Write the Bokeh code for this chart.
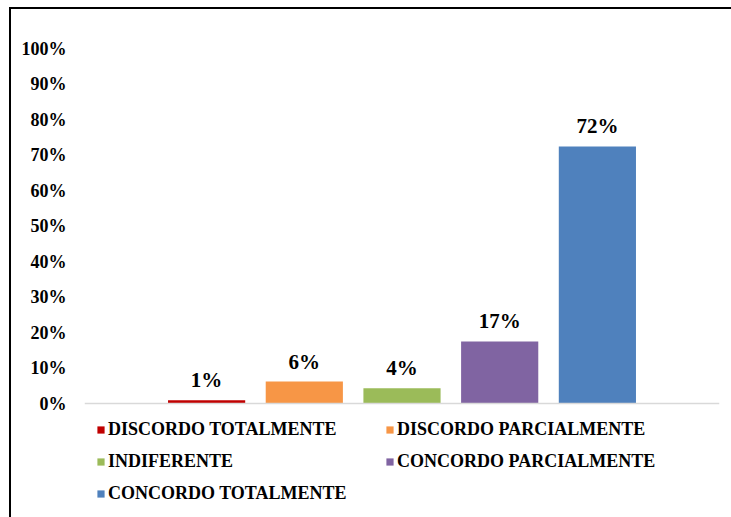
from bokeh.plotting import figure
from bokeh.models import (ColumnDataSource, Range1d, NumeralTickFormatter, FixedTicker,
                          Legend, LegendItem, Span)
from bokeh.core.properties import value
from bokeh.embed import file_html
from bokeh.resources import INLINE

categories = ["DISCORDO TOTALMENTE", "DISCORDO PARCIALMENTE", "INDIFERENTE",
              "CONCORDO PARCIALMENTE", "CONCORDO TOTALMENTE"]
values = [0.009, 0.062, 0.043, 0.175, 0.724]
labels = ["1%", "6%", "4%", "17%", "72%"]
colors = ["#C00000", "#F79646", "#9BBB59", "#8064A2", "#4F81BD"]
y_ticks = [i / 10 for i in range(11)]

FONT = "Liberation Serif"

W, H = 716, 502
p = figure(width=W, height=H, output_backend="svg", toolbar_location=None,
           x_range=Range1d(-0.25, 6.25), y_range=Range1d(-0.304, 1.0),
           min_border_left=73, min_border_right=8, min_border_top=39,
           min_border_bottom=0)
p.margin = (9, 0, 0, 11)
p.outline_line_color = None
p.grid.visible = False
p.background_fill_color = "white"
p.border_fill_color = "white"

xs = list(range(1, len(categories) + 1))
src = ColumnDataSource(dict(x=xs, top=values, color=colors, label=labels, cat=categories))

renderers = []
for i in range(len(categories)):
    s = ColumnDataSource(dict(x=[xs[i]], top=[values[i]]))
    r = p.vbar(x="x", top="top", bottom=0, width=0.79, source=s,
               fill_color=colors[i], line_color=None)
    renderers.append(r)

p.add_layout(Span(location=0, dimension="width", line_color="#d9d9d9", line_width=1.5))

p.text(x="x", y="top", text="label", source=src, text_align="center", text_baseline="bottom",
       y_offset=-8, text_font=value(FONT), text_font_style="bold", text_font_size="21px",
       text_color="black")

p.xaxis.visible = False

p.yaxis.ticker = FixedTicker(ticks=y_ticks)
p.yaxis.formatter = NumeralTickFormatter(format="0%")
p.yaxis.axis_line_color = None
p.yaxis.major_tick_line_color = None
p.yaxis.minor_tick_line_color = None
p.yaxis.major_tick_out = 0
p.yaxis.major_label_standoff = 18
p.yaxis.major_label_text_font = FONT
p.yaxis.major_label_text_font_style = "bold"
p.yaxis.major_label_text_font_size = "18px"
p.yaxis.major_label_text_color = "black"

items = [LegendItem(label=categories[i], renderers=[renderers[i]]) for i in range(len(categories))]
legend = Legend(items=items, location=(12, 7), orientation="horizontal", ncols=2,
                label_text_font=FONT, label_text_font_style="bold", label_text_font_size="18px",
                label_text_color="black", glyph_width=9, glyph_height=9, label_standoff=3,
                label_height=20, label_width=266, spacing=11, padding=0, margin=0,
                border_line_color=None, background_fill_alpha=0)
p.add_layout(legend, "center")

frame_css = ("<style>html, body { margin: 0; background-color: white; "
             "background-image: linear-gradient(black, black), linear-gradient(black, black); "
             "background-repeat: no-repeat; "
             "background-position: 9px 7px, 9px 7px; "
             "background-size: 722px 2px, 2px 510px; }</style>")
page = file_html(p, INLINE)
idx = page.find("</head>")
page = page[:idx] + frame_css + page[idx:]
open("out.html", "w").write(page)
